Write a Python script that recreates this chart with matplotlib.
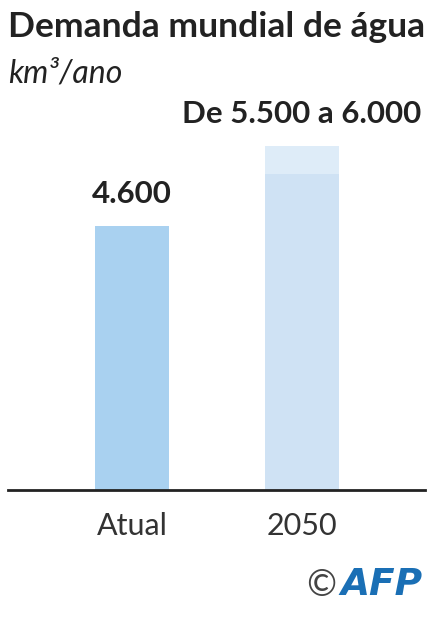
import numpy as np
import matplotlib.pyplot as plt

plt.rcParams['font.family'] = ['Lato', 'DejaVu Sans']

categories = ["Atual", "2050"]
low_values = [4600, 5500]
high_values = [4600, 6000]
value_labels = ["4.600", "De 5.500 a 6.000"]

W, H = 428, 617
fig = plt.figure(figsize=(W / 100, H / 100), dpi=100)

# axes placed in pixel terms
ax_left, ax_right, ax_top, ax_base = 8, 425, 100, 490
ax = fig.add_axes([ax_left / W, (H - ax_base) / H, (ax_right - ax_left) / W, (ax_base - ax_top) / H])

x = np.arange(len(categories))
bar_w = 0.44
lower_colors = ["#a9d1f0", "#cfe2f4"]
ax.bar(x, low_values, width=bar_w, color=lower_colors, zorder=2)
ax.bar(x, np.array(high_values) - np.array(low_values), bottom=low_values,
       width=bar_w, color="#deecf8", zorder=2)

px_per_unit = 264 / 4600
ax.set_ylim(0, (ax_base - ax_top) / px_per_unit)
ax.set_xlim(-0.729, 1.724)

for xi, top, lab in zip(x, high_values, value_labels):
    ax.text(xi, top + 560, lab, ha="center", va="center", fontsize=22.5,
            fontweight="bold", color="#222222")

ax.set_xticks(x)
ax.set_xticklabels(categories, fontsize=22, color="#333333")
ax.tick_params(axis="x", length=0, pad=16)
ax.set_yticks([])
for s in ["top", "right", "left"]:
    ax.spines[s].set_visible(False)
ax.spines["bottom"].set_linewidth(2)
ax.spines["bottom"].set_color("#222222")

fig.text(8 / W, 1 - 27 / H, "Demanda mundial de água", fontsize=25.5,
         fontweight="bold", color="#222222", va="center", ha="left")
fig.text(8 / W, 1 - 73 / H, "km³/ano", fontsize=23, style="italic",
         color="#222222", va="center", ha="left")

fig.text(306 / W, 1 - 585 / H, "©", fontsize=26, color="#444444", va="center", ha="left")
fig.text(423 / W, 1 - 585 / H, "AFP", fontsize=27, fontweight="bold", style="italic",
         family="DejaVu Sans", color="#1a6fb5", va="center", ha="right")

fig.savefig("out.png", dpi=100)
